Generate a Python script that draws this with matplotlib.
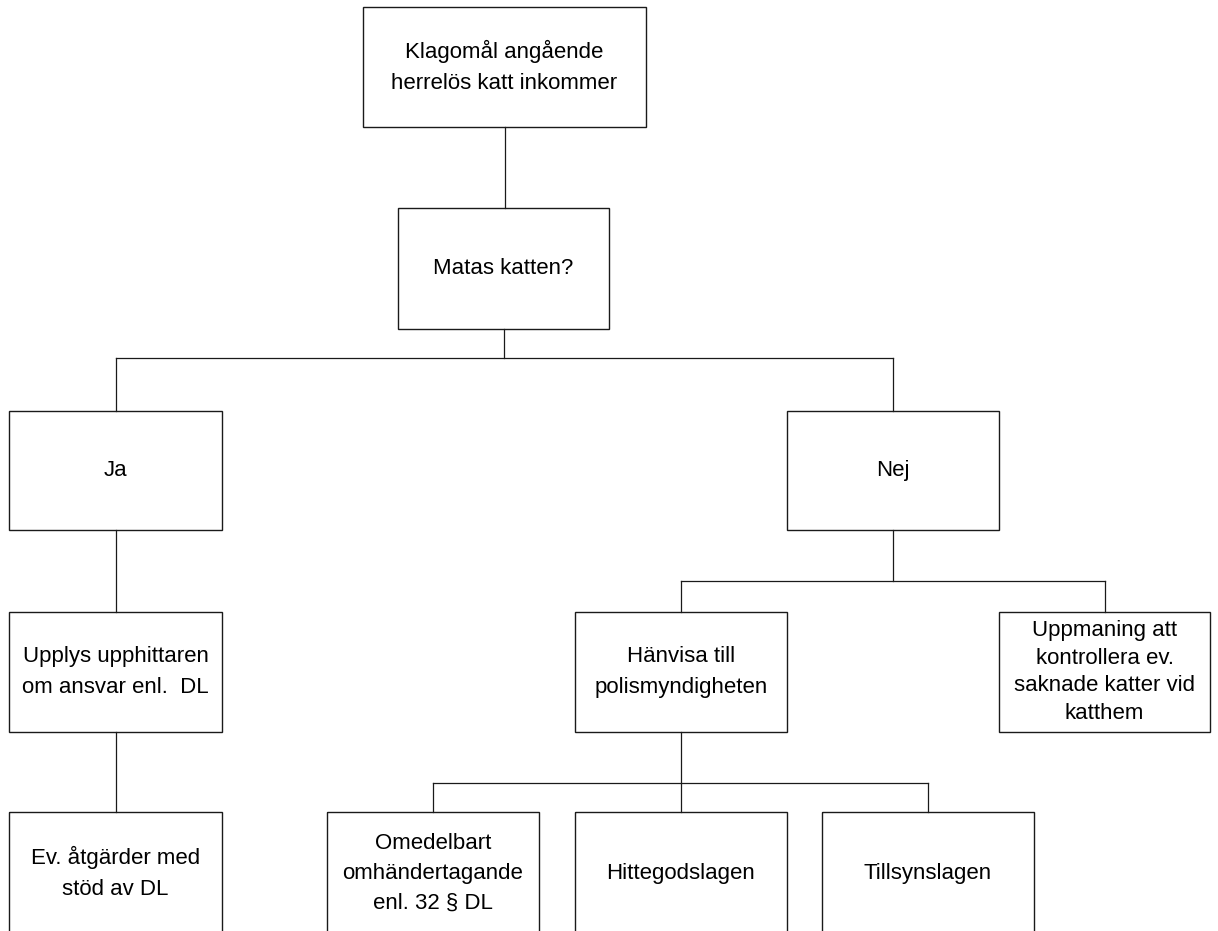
import matplotlib
matplotlib.use("Agg")
import matplotlib.pyplot as plt
from matplotlib.patches import Rectangle

# flowchart nodes
labels = [
    "Klagomål angående\nherrelös katt inkommer",
    "Matas katten?",
    "Ja",
    "Nej",
    "Upplys upphittaren\nom ansvar enl.  DL",
    "Hänvisa till\npolismyndigheten",
    "Uppmaning att\nkontrollera ev.\nsaknade katter vid\nkatthem",
    "Ev. åtgärder med\nstöd av DL",
    "Omedelbart\nomhändertagande\nenl. 32 § DL",
    "Hittegodslagen",
    "Tillsynslagen",
]
parents = [None, 0, 1, 1, 2, 3, 3, 4, 5, 5, 5]

# box geometry in pixels (left, top, width, height)
box_x = [363, 398, 9, 787, 9, 575, 999, 9, 327, 575, 822]
box_y = [7, 208, 411, 411, 612, 612, 612, 812, 812, 812, 812]
box_w = [283, 211, 213, 212, 213, 212, 211, 213, 212, 212, 212]
box_h = [120, 121, 119, 119, 120, 120, 120, 122, 122, 122, 122]
spacing = [1.65, 1.65, 1.65, 1.65, 1.65, 1.65, 1.42, 1.65, 1.55, 1.65, 1.65]

# y of the horizontal bus for nodes with several children
bus_y = {1: 358, 3: 581, 5: 783}

W, H = 1218, 931
fig = plt.figure(figsize=(W / 100, H / 100), dpi=100)
ax = fig.add_axes([0, 0, 1, 1])
ax.set_xlim(0, W)
ax.set_ylim(H, 0)
ax.axis("off")

lc = "#1a1a1a"
cx = [x + w / 2 for x, w in zip(box_x, box_w)]

for i, lab in enumerate(labels):
    ax.add_patch(Rectangle((box_x[i], box_y[i]), box_w[i], box_h[i],
                           fill=False, edgecolor=lc, lw=1.0))
    ax.text(cx[i], box_y[i] + box_h[i] / 2, lab, ha="center", va="center",
            fontsize=16, family="Liberation Sans", linespacing=spacing[i])

# connectors
for p in set(q for q in parents if q is not None):
    kids = [i for i, q in enumerate(parents) if q == p]
    bot = box_y[p] + box_h[p]
    if len(kids) == 1:
        k = kids[0]
        ax.plot([cx[p], cx[p]], [bot, box_y[k]], color=lc, lw=0.9)
        continue
    yb = bus_y[p]
    ax.plot([cx[p], cx[p]], [bot, yb], color=lc, lw=0.9)
    xs = [cx[k] for k in kids]
    ax.plot([min(xs), max(xs)], [yb, yb], color=lc, lw=0.9)
    for k in kids:
        ax.plot([cx[k], cx[k]], [yb, box_y[k]], color=lc, lw=0.9)

fig.savefig("out.png", dpi=100, facecolor="white")
